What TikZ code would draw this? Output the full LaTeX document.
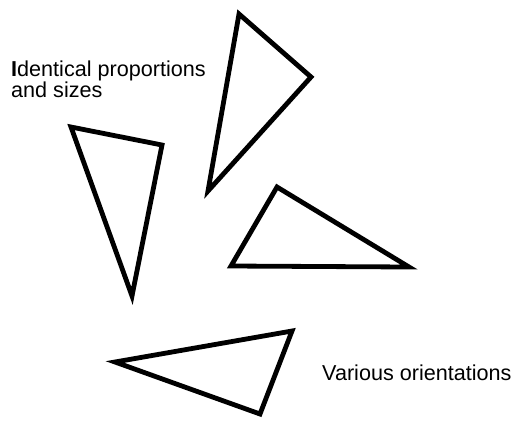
\documentclass[tikz,border=0pt]{standalone}
\usepackage{fontspec}
\setmainfont{Liberation Sans}
\begin{document}
\begin{tikzpicture}[x=1pt,y=-1pt,
  tri/.style={draw=black,line width=4.8pt,line join=miter},
  lbl/.style={inner sep=0pt,anchor=base west,font=\fontsize{21.6}{24}\selectfont}]
\useasboundingbox (0,0) rectangle (516,421);
% triangle 1 (top)
\coordinate (a1) at (239,14);
\coordinate (b1) at (311,77);
\coordinate (c1) at (208,191);
\draw[tri] (a1) -- (b1) -- (c1) -- cycle;
% triangle 2 (left)
\coordinate (a2) at (71,127);
\coordinate (b2) at (162,145);
\coordinate (c2) at (132,296);
\draw[tri] (a2) -- (b2) -- (c2) -- cycle;
% triangle 3 (right)
\coordinate (a3) at (277,187);
\coordinate (b3) at (409,267);
\coordinate (c3) at (231,266);
\draw[tri] (a3) -- (b3) -- (c3) -- cycle;
% triangle 4 (bottom)
\coordinate (a4) at (115,362);
\coordinate (b4) at (292,331);
\coordinate (c4) at (260,414);
\draw[tri] (a4) -- (b4) -- (c4) -- cycle;
% labels
\node[lbl] (l1) at (11,76.5) {\textbf{I}dentical proportions};
\node[lbl] (l2) at (11,97.5) {and sizes};
\node[lbl] (l3) at (322,380.5) {Various orientations};
\end{tikzpicture}
\end{document}
